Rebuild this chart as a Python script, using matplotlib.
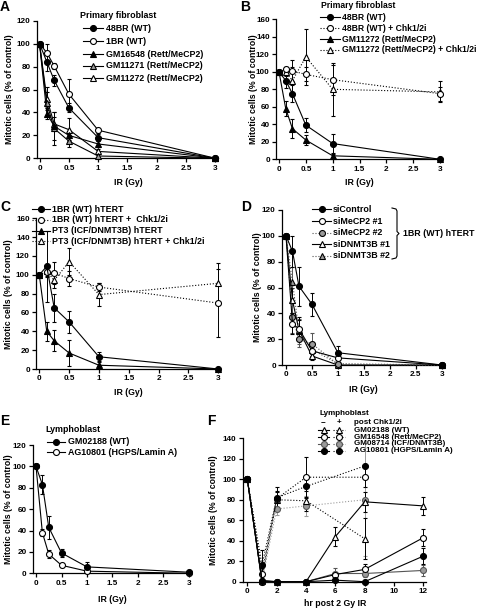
import matplotlib
matplotlib.use("Agg")
import matplotlib.pyplot as plt
from matplotlib.lines import Line2D

plt.rcParams['font.family'] = ['Liberation Sans', 'DejaVu Sans']
plt.rcParams['font.weight'] = 'bold'

# ---------------- DATA ----------------
dose = [0, 0.125, 0.25, 0.5, 1, 3]

# Panel A
a_48br = [100, 84, 68, 44, 18, 0];        a_48br_e = [0, 8, 5, 4, 3, 0]
a_1br = [100, 92, 80.5, 56, 24.5, 0];     a_1br_e = [0, 8, 3, 13, 2, 0]
a_gm16548 = [100, 39, 28, 20, 12.5, 0];   a_gm16548_e = [0, 5, 12, 4, 3, 0]
a_gm11271 = [100, 48, 26, 15, 2, 0];      a_gm11271_e = [0, 10, 14, 5, 2, 0]
a_gm11272 = [100, 52, 30, 25, 6, 0];      a_gm11272_e = [0, 10, 6, 10, 2, 0]

# Panel B
b_48br = [100, 90, 75, 39, 18, 0];          b_48br_e = [0, 8, 10, 8, 11, 0]
b_48br_chk = [100, 103, 101, 97, 91, 75];   b_48br_chk_e = [0, 3, 12, 8, 17, 8]
b_gm11272 = [100, 58, 35, 22, 4, 0];        b_gm11272_e = [0, 9, 11, 6, 2, 0]
b_gm11272_chk = [100, 100, 90, 117, 80, 77]; b_gm11272_chk_e = [0, 5, 15, 32, 30, 12]

# Panel C
c_1br = [100, 109, 65, 50, 13, 0];          c_1br_e = [0, 38, 15, 12, 5, 0]
c_1br_chk = [100, 103, 102, 96, 87, 70];    c_1br_chk_e = [0, 5, 12, 8, 4, 36]
c_pt3 = [100, 40, 30, 17, 4, 0];            c_pt3_e = [0, 10, 11, 14, 3, 0]
c_pt3_chk = [100, 104, 94, 114, 79, 91];    c_pt3_chk_e = [0, 5, 8, 14, 12, 22]

# Panel D
d_sictrl = [100, 88, 61, 47, 9.5, 0];       d_sictrl_e = [0, 12, 15, 9, 5, 0]
d_simecp2_1 = [100, 32, 28, 11, 5.5, 0];    d_simecp2_1_e = [0, 8, 9, 4, 2, 0]
d_simecp2_2 = [100, 37, 20, 16.5, 0.5, 0];  d_simecp2_2_e = [0, 12, 6, 8, 1, 0]
d_sidnmt_1 = [100, 50, 27, 7, 0, 0];        d_sidnmt_1_e = [0, 10, 8, 3, 0.5, 0]
d_sidnmt_2 = [100, 64, 26, 12, 1, 0];       d_sidnmt_2_e = [0, 12, 10, 5, 1, 0]

# Panel E
e_gm02188 = [100, 83, 43, 19, 6, 1];        e_gm02188_e = [0, 9, 11, 4, 5, 1]
e_ag10801 = [100, 38, 18, 7.5, 2, 0];       e_ag10801_e = [0, 3, 4, 2, 1, 2]

# Panel F
hours_minus = [0, 1, 2, 4, 6, 8, 12]
hours_plus = [0, 1, 2, 4, 8]
f_gm02188_m = [100, 1, 0, 0, 44, 78, 74];   f_gm02188_m_e = [0, 1, 0, 1, 9, 10, 9]
f_gm02188_p = [100, 3, 80, 79, 42];         f_gm02188_p_e = [0, 3, 8, 10, 20]
f_gm16548_m = [100, 0, 0, 0, 7, 12, 43];    f_gm16548_m_e = [0, 0, 0, 0, 2, 5, 8]
f_gm16548_p = [100, 8, 81, 102, 102];       f_gm16548_p_e = [0, 5, 8, 20, 10]
f_gm08714_m = [100, 0, 0, 0, 8, 8, 11];     f_gm08714_m_e = [0, 0, 0, 0, 5, 3, 5]
f_gm08714_p = [100, 1, 71, 74, 80];         f_gm08714_p_e = [0, 2, 6, 10, 55]
f_ag10801_m = [100, 1, 0, 0, 1.5, 0, 25];   f_ag10801_m_e = [0, 1, 0, 0, 1, 0, 8]
f_ag10801_p = [100, 16, 82, 93, 113];       f_ag10801_p_e = [0, 15, 10, 10, 0]

# ---------------- FIGURE ----------------
W, H = 480, 609
fig = plt.figure(figsize=(W / 100, H / 100), dpi=100)

def fx(x):
    return x / W

def fy(y):
    return 1 - y / H

GRAY = '#9a9a9a'
TICK_FS = 5.9
LAB_FS = 6.3
LEG_FS = 6.4


def make_ax(left, right, top, bottom, xlim, ylim, xticks, xticklabels, yticks):
    ax = fig.add_axes([fx(left), fy(bottom), (right - left) / W, (bottom - top) / H])
    ax.set_xlim(*xlim)
    ax.set_ylim(*ylim)
    ax.set_xticks(xticks)
    ax.set_xticklabels(xticklabels)
    ax.set_yticks(yticks)
    for s in ['top', 'right']:
        ax.spines[s].set_visible(False)
    for s in ['left', 'bottom']:
        ax.spines[s].set_linewidth(0.9)
    ax.tick_params(direction='out', length=3, width=0.9, labelsize=TICK_FS, pad=1.5)
    for lab in ax.get_xticklabels() + ax.get_yticklabels():
        lab.set_fontweight('bold')
    return ax


def series(ax, x, y, e, marker, mfc, ls='-', lc='black', mec='black', z=3):
    ax.errorbar(x, y, yerr=e, color=lc, ls=ls, lw=0.8, marker=marker, ms=4.3,
                mfc=mfc, mec=mec, mew=0.8, ecolor=lc, elinewidth=0.7,
                capsize=1.6, capthick=0.7, clip_on=False, zorder=z)


def labels(ax, xlab, xl_pos, ylab_pos):
    ax.set_xlabel(xlab, fontsize=LAB_FS, fontweight='bold')
    ax.set_ylabel('Mitotic cells (% of control)', fontsize=LAB_FS, fontweight='bold')
    ax.xaxis.set_label_coords(fx(xl_pos[0]), fy(xl_pos[1]), transform=fig.transFigure)
    ax.yaxis.set_label_coords(fx(ylab_pos[0]), fy(ylab_pos[1]), transform=fig.transFigure)
    ax.xaxis.label.set_va('center')
    ax.yaxis.label.set_va('center')


def handle(x1, x2, y, ls, marker, mfc, lc='black', mec='black'):
    fig.add_artist(Line2D([fx(x1), fx(x2)], [fy(y), fy(y)], ls=ls, color=lc, lw=0.8,
                          transform=fig.transFigure))
    fig.add_artist(Line2D([fx((x1 + x2) / 2)], [fy(y)], marker=marker, mfc=mfc, mec=mec,
                          mew=0.8, ms=4.3, ls='none', transform=fig.transFigure))


def text(x, y, s, fs=LEG_FS, ha='left', va='center'):
    fig.text(fx(x), fy(y), s, fontsize=fs, ha=ha, va=va, fontweight='bold')


xt = [0, 0.5, 1, 1.5, 2, 2.5, 3]
xtl = ['0', '0.5', '1', '1.5', '2', '2.5', '3']

# ---------------- Panel A ----------------
axA = make_ax(37, 218, 20.7, 158.3, (-0.043, 3.043), (0, 120), xt, xtl, range(0, 121, 20))
series(axA, dose, a_gm11272, a_gm11272_e, '^', 'white')
series(axA, dose, a_gm11271, a_gm11271_e, '^', GRAY)
series(axA, dose, a_gm16548, a_gm16548_e, '^', 'black')
series(axA, dose, a_1br, a_1br_e, 'o', 'white')
series(axA, dose, a_48br, a_48br_e, 'o', 'black')
labels(axA, 'IR (Gy)', (128, 182), (10, 89.5))
text(80, 15, 'Primary fibroblast')
for yy, lab, mk, mf in [(28.3, '48BR (WT)', 'o', 'black'), (41.3, '1BR (WT)', 'o', 'white'),
                        (54.3, 'GM16548 (Rett/MeCP2)', '^', 'black'),
                        (65.7, 'GM11271 (Rett/MeCP2)', '^', GRAY),
                        (78.3, 'GM11272 (Rett/MeCP2)', '^', 'white')]:
    handle(83, 103, yy, '-', mk, mf)
    text(106.5, yy, lab)

# ---------------- Panel B ----------------
axB = make_ax(276, 442, 19.3, 159.3, (-0.056, 3.037), (0, 160), xt, xtl, range(0, 161, 20))
series(axB, dose, b_gm11272_chk, b_gm11272_chk_e, '^', 'white', ls=':')
series(axB, dose, b_48br_chk, b_48br_chk_e, 'o', 'white', ls=':')
series(axB, dose, b_gm11272, b_gm11272_e, '^', 'black')
series(axB, dose, b_48br, b_48br_e, 'o', 'black')
labels(axB, 'IR (Gy)', (359, 182.7), (253, 89.3))
text(321, 5, 'Primary fibroblast', fs=6.2)
for yy, lab, mk, mf, ls in [(17.3, '48BR (WT)', 'o', 'black', '-'),
                            (28.3, '48BR (WT) + Chk1/2i', 'o', 'white', ':'),
                            (39.3, 'GM11272 (Rett/MeCP2)', '^', 'black', '-'),
                            (50, 'GM11272 (Rett/MeCP2) + Chk1/2i', '^', 'white', ':')]:
    handle(320, 340, yy, ls, mk, mf)
    text(342, yy, lab, fs=6.2)

# ---------------- Panel C ----------------
axC = make_ax(36, 220, 218.3, 369, (-0.055, 3.03), (0, 160), xt, xtl, range(0, 161, 20))
series(axC, dose, c_pt3_chk, c_pt3_chk_e, '^', 'white', ls=':')
series(axC, dose, c_1br_chk, c_1br_chk_e, 'o', 'white', ls=':')
series(axC, dose, c_pt3, c_pt3_e, '^', 'black')
series(axC, dose, c_1br, c_1br_e, 'o', 'black')
labels(axC, 'IR (Gy)', (128, 392.7), (9, 293.7))
for yy, lab, mk, mf, ls in [(209, '1BR (WT) hTERT', 'o', 'black', '-'),
                            (220, '1BR (WT) hTERT +  Chk1/2i', 'o', 'white', ':'),
                            (230.7, 'PT3 (ICF/DNMT3B) hTERT', '^', 'black', '-'),
                            (241, 'PT3 (ICF/DNMT3B) hTERT + Chk1/2i', '^', 'white', ':')]:
    handle(32, 50, yy, ls, mk, mf)
    text(52.5, yy, lab)

# ---------------- Panel D ----------------
axD = make_ax(282, 443, 210, 365, (-0.077, 3.025), (0, 120), xt, xtl, range(0, 121, 20))
series(axD, dose, d_sidnmt_2, d_sidnmt_2_e, '^', GRAY, ls=':', lc='#555555')
series(axD, dose, d_sidnmt_1, d_sidnmt_1_e, '^', 'white')
series(axD, dose, d_simecp2_2, d_simecp2_2_e, 'o', GRAY, ls=':', lc='#555555')
series(axD, dose, d_simecp2_1, d_simecp2_1_e, 'o', 'white')
series(axD, dose, d_sictrl, d_sictrl_e, 'o', 'black')
labels(axD, 'IR (Gy)', (363, 389.3), (257, 287.5))
for yy, lab, mk, mf, ls, lc in [(209.3, 'siControl', 'o', 'black', '-', 'black'),
                                (221, 'siMeCP2 #1', 'o', 'white', '-', 'black'),
                                (232.7, 'siMeCP2 #2', 'o', GRAY, ':', '#555555'),
                                (244.3, 'siDNMT3B #1', '^', 'white', '-', 'black'),
                                (256, 'siDNMT3B #2', '^', GRAY, ':', '#555555')]:
    handle(312, 331, yy, ls, mk, mf, lc=lc)
    text(333, yy, lab)
# bracket
br_x0, br_x1, br_y0, br_y1 = 392, 397, 208, 259
fig.add_artist(Line2D([fx(br_x0), fx(br_x1 - 1), fx(br_x1), fx(br_x1), fx(br_x1 + 2),
                       fx(br_x1), fx(br_x1), fx(br_x1 - 1), fx(br_x0)],
                      [fy(br_y0), fy(br_y0 + 1), fy(br_y0 + 3), fy((br_y0 + br_y1) / 2 - 2),
                       fy((br_y0 + br_y1) / 2), fy((br_y0 + br_y1) / 2 + 2), fy(br_y1 - 3),
                       fy(br_y1 - 1), fy(br_y1)],
                      color='black', lw=0.8, transform=fig.transFigure))
text(403, 233.3, '1BR (WT) hTERT')

# ---------------- Panel E ----------------
axE = make_ax(33, 191, 445, 573.3, (-0.059, 3.04), (0, 120), xt, xtl, range(0, 121, 20))
series(axE, dose, e_ag10801, e_ag10801_e, 'o', 'white')
series(axE, dose, e_gm02188, e_gm02188_e, 'o', 'black')
labels(axE, 'IR (Gy)', (112, 599.3), (9, 509))
text(45, 429, 'Lymphoblast')
for yy, lab, mk, mf in [(441.7, 'GM02188 (WT)', 'o', 'black'),
                        (452.3, 'AG10801 (HGPS/Lamin A)', 'o', 'white')]:
    handle(47, 65, yy, '-', mk, mf)
    text(68, yy, lab)

# ---------------- Panel F ----------------
axF = make_ax(242.5, 426, 438.3, 581.7, (-0.33, 12.18), (0, 140),
              [0, 2, 4, 6, 8, 10, 12], ['0', '2', '4', '6', '8', '10', '12'], range(0, 141, 20))
DG = '#555555'
series(axF, hours_plus, f_gm08714_p, f_gm08714_p_e, 'o', GRAY, ls=':', lc=GRAY, mec=DG)
series(axF, hours_plus, f_gm02188_p, f_gm02188_p_e, '^', 'white', ls=':')
series(axF, hours_plus, f_gm16548_p, f_gm16548_p_e, 'o', 'white', ls=':')
series(axF, hours_plus, f_ag10801_p, f_ag10801_p_e, 'o', 'black', ls=':')
series(axF, hours_minus, f_gm02188_m, f_gm02188_m_e, '^', 'white')
series(axF, hours_minus, f_gm08714_m, f_gm08714_m_e, 'o', GRAY, lc=DG, mec=DG)
series(axF, hours_minus, f_gm16548_m, f_gm16548_m_e, 'o', 'white')
series(axF, hours_minus, f_ag10801_m, f_ag10801_m_e, 'o', 'black')
labels(axF, 'hr post 2 Gy IR', (335, 603.3), (213, 510))
FFS = 5.8
text(319, 413.3, 'Lymphoblast', fs=FFS)
text(323, 422.3, '\u2212', fs=FFS, ha='center')
text(339, 422.3, '+', fs=FFS, ha='center')
text(354, 422.3, 'post Chk1/2i', fs=FFS)
for yy, lab, mk, mf, lc, mec in [(430.3, 'GM02188 (WT)', '^', 'white', 'black', 'black'),
                                 (437.1, 'GM16548 (Rett/MeCP2)', 'o', 'white', 'black', 'black'),
                                 (443.9, 'GM08714 (ICF/DNMT3B)', 'o', GRAY, DG, DG),
                                 (450.7, 'AG10801 (HGPS/Lamin A)', 'o', 'black', 'black', 'black')]:
    handle(318, 329, yy, '-', mk, mf, lc=lc, mec=mec)
    handle(333, 345, yy, ':', mk, mf, lc=lc, mec=mec)
    text(354, yy, lab, fs=FFS)

# ---------------- Panel letters ----------------
for (x, y, s) in [(0, 0, 'A'), (240, 0, 'B'), (0, 200, 'C'), (241, 200, 'D'),
                  (0, 414, 'E'), (207, 414, 'F')]:
    fig.text(fx(x), fy(y), s, fontsize=10, fontweight='bold', ha='left', va='top')

fig.savefig('out.png', dpi=100)
